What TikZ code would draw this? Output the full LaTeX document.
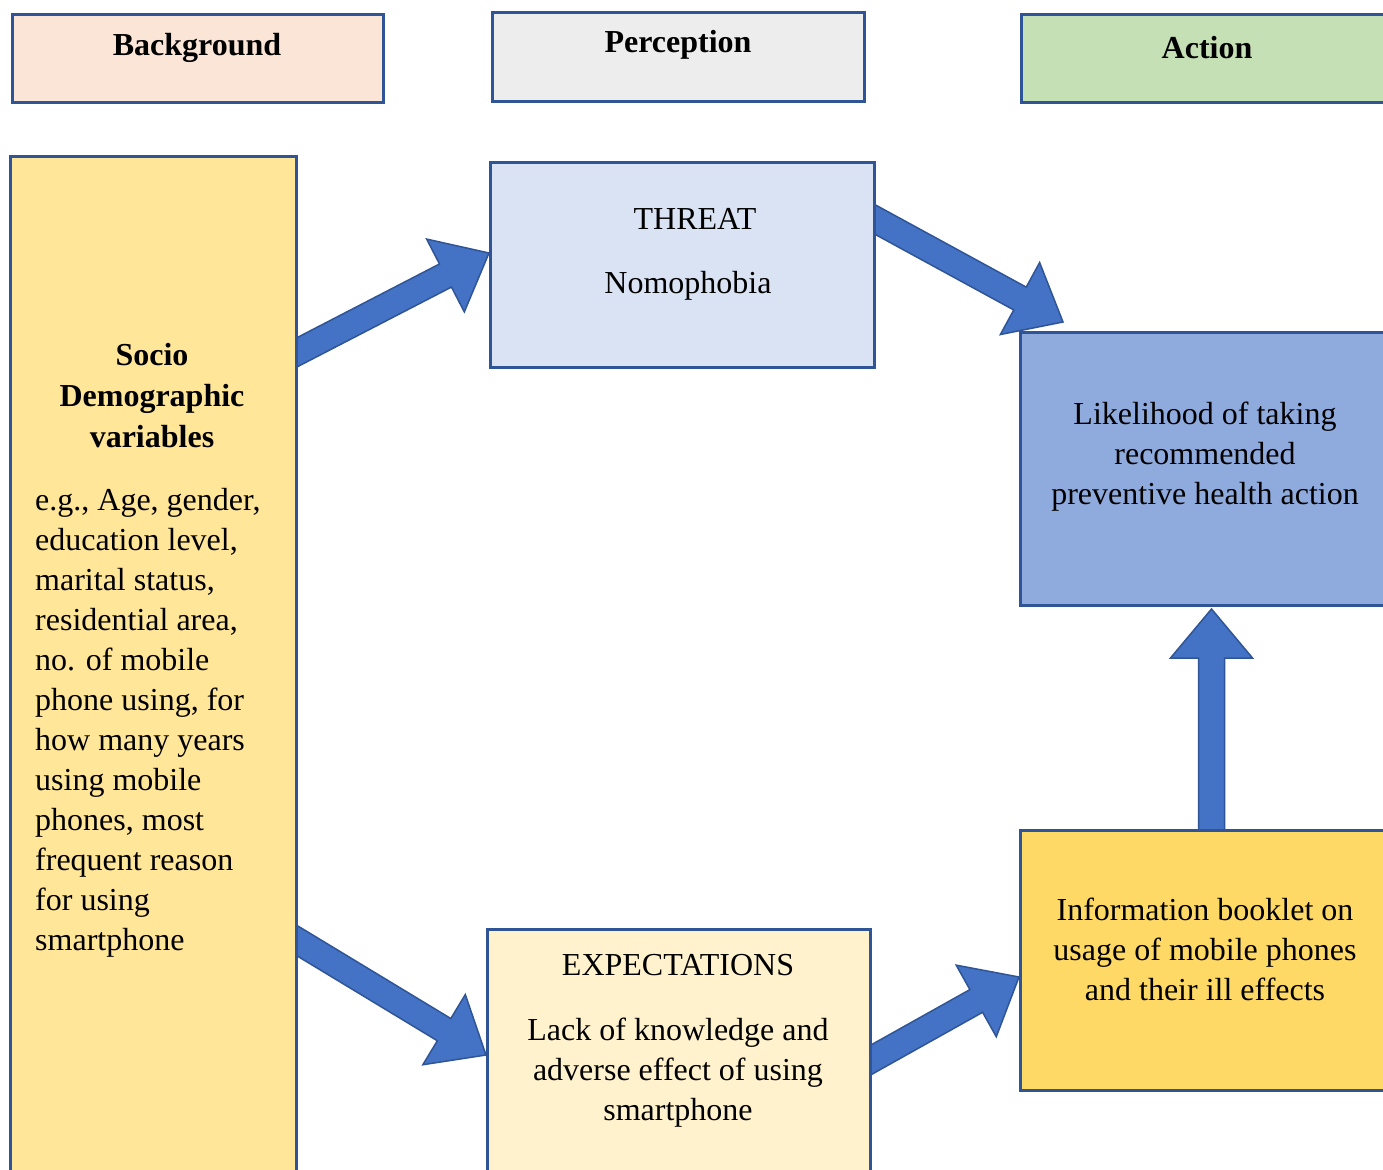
\documentclass[tikz,border=0pt]{standalone}
\usepackage{fontspec}
\setmainfont{Liberation Serif}
\usetikzlibrary{calc}
\pgfdeclarelayer{bg}
\pgfsetlayers{bg,main}
\definecolor{bord}{HTML}{2F5597}
\definecolor{arrfill}{HTML}{4472C4}
\definecolor{cpeach}{HTML}{FBE5D6}
\definecolor{cgray}{HTML}{EDEDED}
\definecolor{cgreen}{HTML}{C5E0B4}
\definecolor{cyellow}{HTML}{FFE699}
\definecolor{cthreat}{HTML}{DAE3F3}
\definecolor{clikely}{HTML}{8FAADC}
\definecolor{cinfo}{HTML}{FFD966}
\definecolor{cexpect}{HTML}{FFF2CC}
\newcommand\barrow[2]{%
  \coordinate (tmpC) at ($(#2)!49pt!(#1)$);
  \draw[blockarrow] ($(#1)!13pt!90:(#2)$) -- ($(tmpC)!13pt!-90:(#1)$) -- ($(tmpC)!41pt!-90:(#1)$) -- (#2) -- ($(tmpC)!41pt!90:(#1)$) -- ($(tmpC)!13pt!90:(#1)$) -- ($(#1)!13pt!-90:(#2)$) -- cycle;}
\begin{document}
\begin{tikzpicture}[x=1pt,y=-1pt,
  box/.style={draw=bord, line width=3pt, anchor=north west, inner sep=0pt},
  txt/.style={font=\fontsize{32}{40}\selectfont, inner sep=0pt, align=center},
  hdr/.style={font=\fontsize{32}{40}\selectfont\bfseries, inner sep=0pt, align=center},
  blockarrow/.style={fill=arrfill, draw=bord, line width=1.5pt, line join=miter}]
\useasboundingbox (0,0) rectangle (1383,1169);
\begin{pgfonlayer}{bg}
\fill[white] (0,0) rectangle (1383,1169);
\end{pgfonlayer}
\clip (0,0) rectangle (1383,1169);
% header boxes
\node[box, fill=cpeach, minimum width=371, minimum height=88] (bghead) at (11,13) {};
\node[box, fill=cgray, minimum width=372, minimum height=89] (perchead) at (491,11) {};
\node[box, fill=cgreen, minimum width=374, minimum height=88] (acthead) at (1020,13) {};
\node[hdr] (bgt) at (197,48) {Background};
\node[hdr] (pert) at (678,45) {Perception};
\node[hdr] (actt) at (1207,48) {Action};
% main boxes
\node[box, fill=cyellow, minimum width=286, minimum height=1029] (left) at (9,155) {};
\node[box, fill=cthreat, minimum width=384, minimum height=205] (threat) at (489,161) {};
\node[box, fill=clikely, minimum width=375, minimum height=273] (likely) at (1019,331) {};
\node[box, fill=cinfo, minimum width=375, minimum height=260] (info) at (1019,829) {};
\node[box, fill=cexpect, minimum width=383, minimum height=256] (expect) at (486,928) {};
% texts
\node[hdr, font=\fontsize{32}{41}\selectfont\bfseries] (sdv) at (152,396) {Socio\\Demographic\\variables};
\node[txt, align=left, anchor=west] (sdvt) at (35,723) {e.g., Age, gender,\\education level,\\marital status,\\residential area,\\no. of mobile\\phone using, for\\how many years\\using mobile\\phones, most\\frequent reason\\for using\\smartphone};
\node[txt] (thrt) at (695,219) {THREAT};
\node[txt] (nomo) at (688,286) {Nomophobia};
\node[txt] (likt) at (1205,457) {Likelihood of taking\\recommended\\preventive health action};
\node[txt] (infot) at (1205,949) {Information booklet on\\usage of mobile phones\\and their ill effects};
\node[txt] (expt) at (678,965) {EXPECTATIONS};
\node[txt] (expb) at (678,1073) {Lack of knowledge and\\adverse effect of using\\smartphone};
% arrows
\coordinate (a1s) at ($(left.east |- 0,358)+(-12,0)$);
\coordinate (a1e) at (threat.west |- 0,253);
\coordinate (a2s) at ($(threat.east |- 0,213.5)+(-12,0)$);
\coordinate (a2e) at ($(likely.north west)+(44,-9)$);
\coordinate (a3s) at ($(info.north)+(3.5,12)$);
\coordinate (a3e) at ($(likely.south)+(3.5,2)$);
\coordinate (a4s) at ($(left.east |- 0,934)+(-12,0)$);
\coordinate (a4e) at (expect.west |- 0,1055);
\coordinate (a5s) at ($(expect.east |- 0,1066)+(-12,0)$);
\coordinate (a5e) at (info.west |- 0,977);
\begin{pgfonlayer}{bg}
\barrow{a1s}{a1e}
\barrow{a2s}{a2e}
\barrow{a3s}{a3e}
\barrow{a4s}{a4e}
\barrow{a5s}{a5e}
\end{pgfonlayer}
\end{tikzpicture}
\end{document}
